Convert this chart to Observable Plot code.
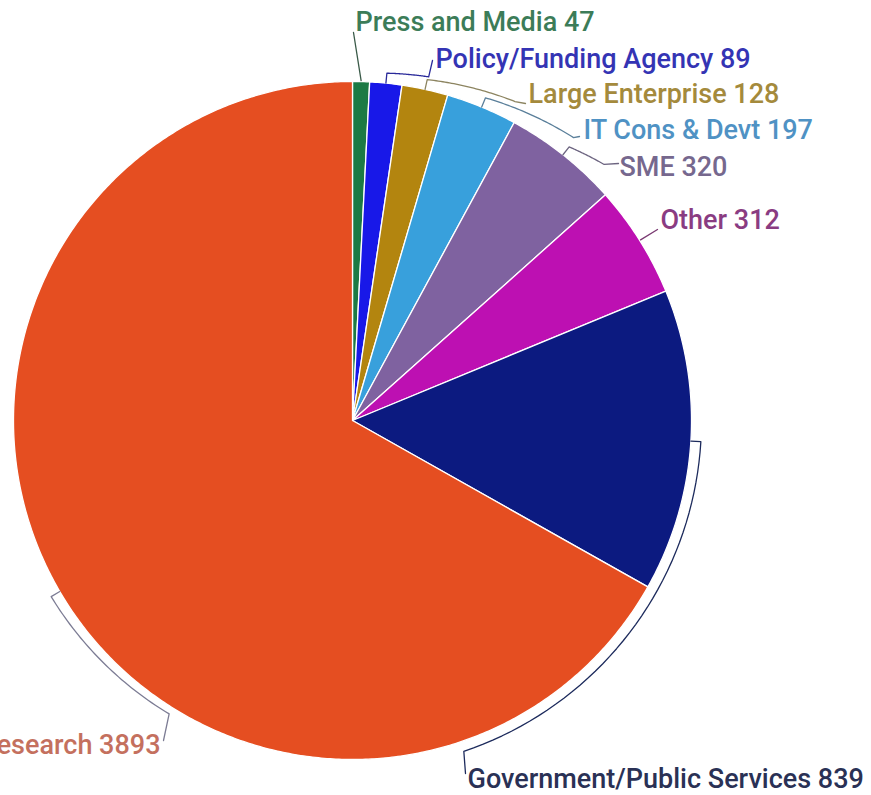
<!DOCTYPE html>
<html>
<head>
<meta charset="utf-8">
<script src="https://cdn.jsdelivr.net/npm/d3@7"></script>
<script src="https://cdn.jsdelivr.net/npm/@observablehq/plot@0.6"></script>
<style>
  html, body { margin: 0; padding: 0; background: #fff; }
  #chart { width: 871px; height: 795px; overflow: hidden; }
</style>
</head>
<body>
<div id="chart"></div>
<script>
// ---- data ----
const categories = ["Press and Media", "Policy/Funding Agency", "Large Enterprise", "IT Cons & Devt", "SME", "Other", "Government/Public Services", "Research"];
const values = [47, 89, 128, 197, 320, 312, 839, 3893];

// ---- styles ----
const sliceColors = ["#1c7a44", "#1818e8", "#b3850f", "#38a0dc", "#7f62a0", "#bd10b2", "#0c1a80", "#e54e21"];
const labelColors = ["#3c7c58", "#3434b4", "#a48a3c", "#4f92c4", "#76688e", "#8a3c82", "#2a3155", "#c4705e"];
const leaderColors = ["#3a5a48", "#2a2a9a", "#8c8460", "#5a7f9a", "#6c6480", "#7a3a72", "#1c2a5c", "#7c7c94"];

// ---- layout ----
const cx = 352, cy = 420, R = 339;
const arcEndAngle = [null, 12.5, 27, 38, 44.5, null, 161.4, 212];   // degrees, clockwise from top
const arcEndRadius = [null, 352, 358, 359, 359, null, 349, 346];
const anchorX = [353, 432, 525, 579, 618, 657, 465, 163];
const anchorY = [32, 60, 103, 136, 163, 229, 773, 740];
const labelX = [355, 435, 528, 583, 619, 660, 467, 160];
const labelBaseline = [30, 67, 102, 138, 175, 228, 787, 753];
const labelAnchor = ["start", "start", "start", "start", "start", "start", "start", "end"];
const fontSize = 27;

const pt = (a, r) => ({x: cx + r * Math.sin(a), y: cy - r * Math.cos(a)});
const rad = d => d * Math.PI / 180;

const arcs = d3.pie().sort(null).value(d => d)(values);

// slice polygons
const slicePts = [];
arcs.forEach((a, i) => {
  const n = Math.max(4, Math.ceil((a.endAngle - a.startAngle) / rad(0.5)));
  slicePts.push({i, ...pt(0, 0), fill: sliceColors[i]});
  for (let k = 0; k <= n; k++) {
    const t = a.startAngle + (a.endAngle - a.startAngle) * k / n;
    slicePts.push({i, ...pt(t, R), fill: sliceColors[i]});
  }
  slicePts.push({i, ...pt(0, 0), fill: sliceColors[i]});
});

// leader brackets
const leaderPts = [];
arcs.forEach((a, i) => {
  const mid = (a.startAngle + a.endAngle) / 2;
  const push = p => leaderPts.push({i, x: p.x, y: p.y, stroke: leaderColors[i]});
  if (arcEndAngle[i] == null) {
    push(pt(mid, R + 1));
    push({x: anchorX[i], y: anchorY[i]});
    return;
  }
  push(pt(mid, R));
  push(pt(mid, R + 10));
  const end = rad(arcEndAngle[i]);
  const n = 40;
  for (let k = 1; k <= n; k++) {
    const t = mid + (end - mid) * k / n;
    const r = (R + 10) + (arcEndRadius[i] - (R + 10)) * k / n;
    push(pt(t, r));
  }
  push({x: anchorX[i], y: anchorY[i]});
});

const labels = categories.map((c, i) => ({
  text: `${c} ${values[i]}`,
  x: labelX[i],
  y: labelBaseline[i] - 0.32 * fontSize,
  fill: labelColors[i],
  anchor: labelAnchor[i]
}));

const chart = Plot.plot({
  width: 871,
  height: 795,
  margin: 0,
  x: {domain: [0, 871], range: [0, 871], axis: null},
  y: {domain: [0, 795], range: [0, 795], axis: null},
  color: {type: "identity"},
  style: {background: "#fff", fontFamily: "Roboto, 'Noto Sans', sans-serif"},
  marks: [
    Plot.line(slicePts, {x: "x", y: "y", z: "i", fill: "fill", stroke: "white", strokeWidth: 1.3, strokeLinejoin: "round"}),
    Plot.line(leaderPts, {x: "x", y: "y", z: "i", stroke: "stroke", strokeWidth: 1.3, fill: "none"}),
    Plot.text(labels.filter(d => d.anchor === "start"), {x: "x", y: "y", text: "text", fill: "fill", textAnchor: "start", fontSize, fontWeight: 500}),
    Plot.text(labels.filter(d => d.anchor === "end"), {x: "x", y: "y", text: "text", fill: "fill", textAnchor: "end", fontSize, fontWeight: 500})
  ]
});
document.getElementById("chart").appendChild(chart);
</script>
</body>
</html>
